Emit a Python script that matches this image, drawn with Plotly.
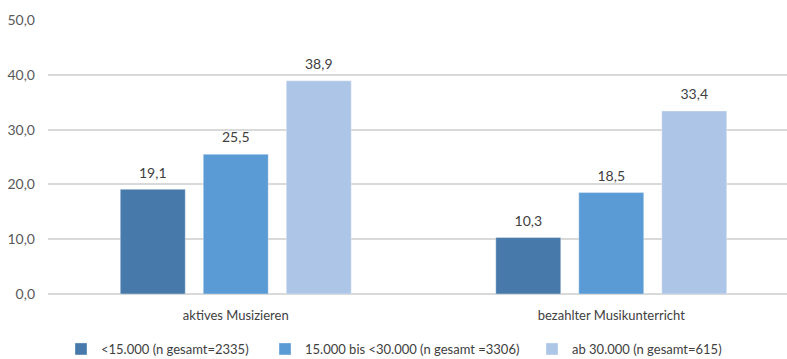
import plotly.graph_objects as go

categories = ["aktives Musizieren", "bezahlter Musikunterricht"]
series_names = [
    "<15.000 (n gesamt=2335)",
    "15.000 bis <30.000 (n gesamt =3306)",
    "ab 30.000 (n gesamt=615)",
]
values_low = [19.1, 10.3]
values_mid = [25.5, 18.5]
values_high = [38.9, 33.4]
colors = ["#477AAB", "#5B9BD5", "#ADC5E6"]
y_ticks = [0, 10, 20, 30, 40, 50]

FONT = "Lato, Roboto, sans-serif"
legend_ids = ["legend", "legend2", "legend3"]
legend_x_px = [61, 265, 532]

fig = go.Figure()
for name, vals, col, lg in zip(series_names, [values_low, values_mid, values_high], colors, legend_ids):
    fig.add_trace(go.Bar(
        x=categories, y=vals, name=name, legend=lg,
        marker=dict(color=col, line=dict(color="rgba(255,255,255,0.35)", width=1)),
        texttemplate="<span style='font-size:14px'>%{y:.1f}</span><br><span style='color:rgba(0,0,0,0)'>.</span>",
        textposition="outside",
        textfont=dict(family=FONT, size=6, color="#404040"),
        cliponaxis=False,
    ))

legend_common = dict(orientation="h", xanchor="left", xref="container",
                     yref="container", y=0.0696, yanchor="top",
                     font=dict(family=FONT, size=13, color="#404040"))

fig.update_layout(
    width=787, height=359,
    margin=dict(l=48, r=0, t=20, b=64.5),
    barmode="group", bargap=0.337, bargroupgap=0.217,
    separators=",.",
    plot_bgcolor="white", paper_bgcolor="white",
    font=dict(family=FONT, color="#404040", size=13),
    xaxis=dict(range=[-0.5, 1.468], showgrid=False, showline=False, ticks="",
               tickfont=dict(family=FONT, size=13, color="#404040"),
               ticklabelstandoff=12),
    yaxis=dict(range=[0, 50], tickvals=y_ticks, tickformat=".1f",
               showgrid=True, gridcolor="#D9D9D9", gridwidth=1.5,
               zeroline=True, zerolinecolor="#D9D9D9", zerolinewidth=1.5,
               tickfont=dict(family=FONT, size=14, color="#595959"),
               ticklabelstandoff=12),
    legend=dict(x=legend_x_px[0] / 787, **legend_common),
    legend2=dict(x=legend_x_px[1] / 787, **legend_common),
    legend3=dict(x=legend_x_px[2] / 787, **legend_common),
    showlegend=True,
)

fig.write_html("out.html")
